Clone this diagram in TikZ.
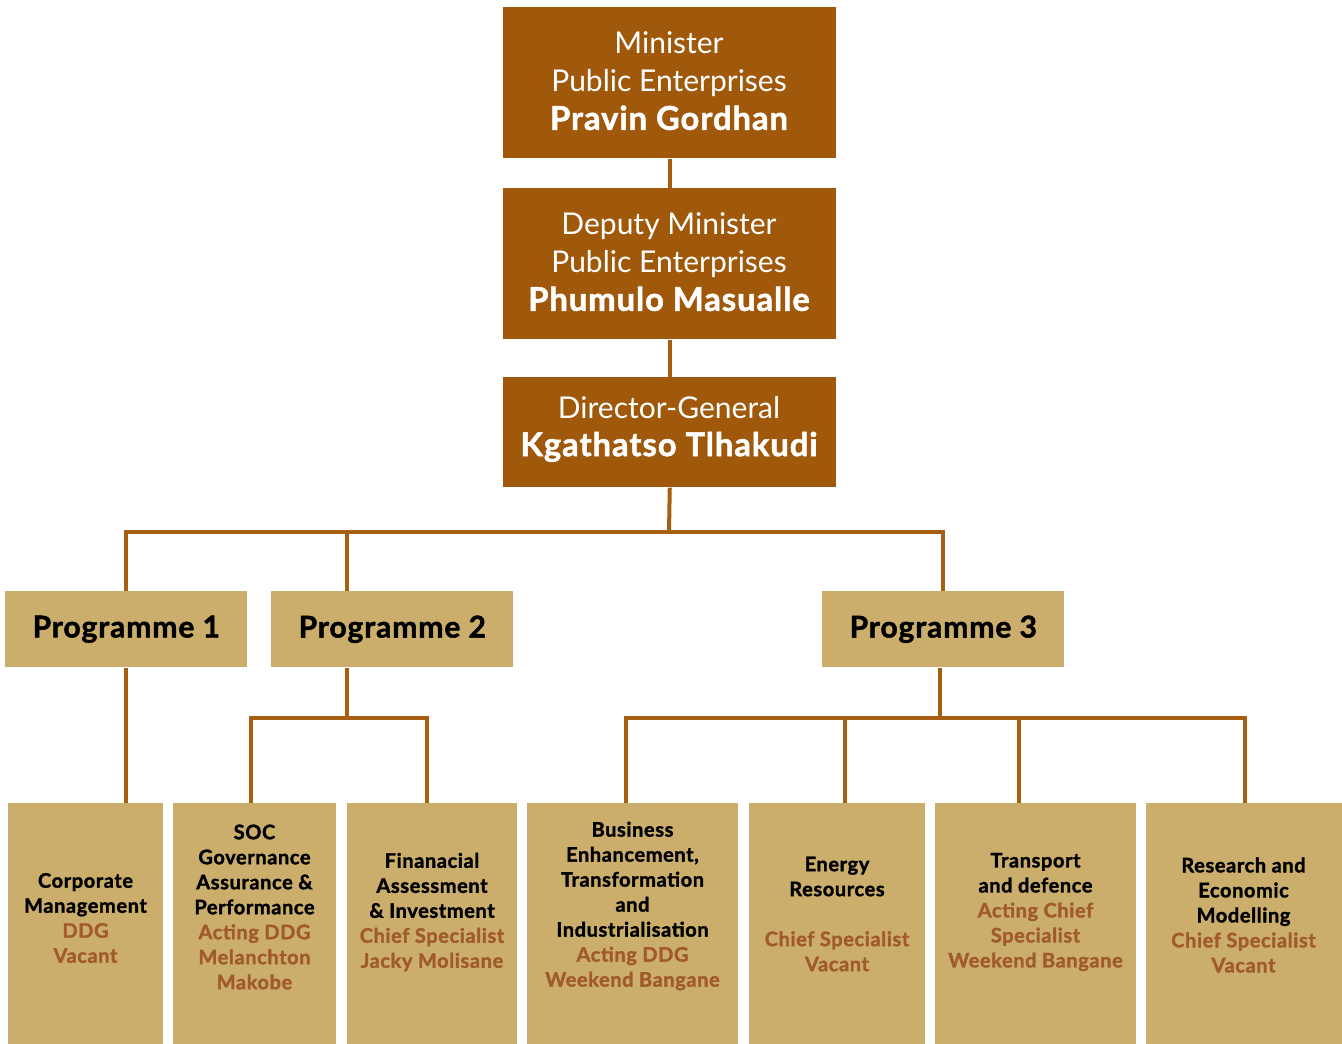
\documentclass[tikz,border=0pt]{standalone}
\usepackage{fontspec}
\setmainfont{Lato}[BoldFeatures={FakeBold=1.6,LetterSpace=3}]
\definecolor{dbrown}{HTML}{A0590B}
\definecolor{tan}{HTML}{CBAE6C}
\definecolor{nbrown}{HTML}{A05A2C}
\definecolor{lbrown}{HTML}{A65E10}
\newcommand{\bigname}[1]{{\bfseries\fontsize{24.5}{28.5}\selectfont #1}}
\begin{document}
\begin{tikzpicture}[x=0.75pt,y=-0.75pt,
  topbox/.style={fill=dbrown,draw=none,anchor=north west,inner sep=0pt},
  progbox/.style={fill=tan,draw=none,anchor=north west,inner sep=0pt},
  lowbox/.style={fill=tan,draw=none,anchor=north west,inner sep=0pt},
  toptxt/.style={text=white,align=center,font=\fontsize{22.5}{28.5}\selectfont},
  progtxt/.style={text=black,font=\bfseries\fontsize{22.5}{24}\selectfont},
  lowtxt/.style={text=black,align=center,font=\bfseries\fontsize{15}{18.75}\selectfont},
  conn/.style={draw=lbrown,line width=3pt}]
\useasboundingbox (0,0) rectangle (1342,1044);
% top boxes
\node[topbox,minimum width=333*0.75pt,minimum height=151*0.75pt] (min) at (503,7) {};
\node[topbox,minimum width=333*0.75pt,minimum height=151*0.75pt] (dep) at (503,188) {};
\node[topbox,minimum width=333*0.75pt,minimum height=110*0.75pt] (dg) at (503,377) {};
\node[toptxt] (mintxt) at (669,81) {Minister\\Public Enterprises\\\bigname{Pravin Gordhan}};
\node[toptxt] (deptxt) at (669,262) {Deputy Minister\\Public Enterprises\\\bigname{Phumulo Masualle}};
\node[toptxt] (dgtxt) at (669,429) {Director-General\\\bigname{Kgathatso Tlhakudi}};
% programme boxes
\node[progbox,minimum width=242*0.75pt,minimum height=76*0.75pt] (p1) at (5,591) {};
\node[progbox,minimum width=242*0.75pt,minimum height=76*0.75pt] (p2) at (271,591) {};
\node[progbox,minimum width=242*0.75pt,minimum height=76*0.75pt] (p3) at (822,591) {};
\node[progtxt] (p1t) at (p1.center) {Programme 1};
\node[progtxt] (p2t) at (p2.center) {Programme 2};
\node[progtxt] (p3t) at (p3.center) {Programme 3};
% lower boxes
\node[lowbox,minimum width=155*0.75pt,minimum height=241*0.75pt] (b1) at (8,803) {};
\node[lowbox,minimum width=163*0.75pt,minimum height=241*0.75pt] (b2) at (173,803) {};
\node[lowbox,minimum width=170*0.75pt,minimum height=241*0.75pt] (b3) at (347,803) {};
\node[lowbox,minimum width=211*0.75pt,minimum height=241*0.75pt] (b4) at (527,803) {};
\node[lowbox,minimum width=176*0.75pt,minimum height=241*0.75pt] (b5) at (749,803) {};
\node[lowbox,minimum width=201*0.75pt,minimum height=241*0.75pt] (b6) at (935,803) {};
\node[lowbox,minimum width=196*0.75pt,minimum height=241*0.75pt] (b7) at (1146,803) {};
\node[lowtxt] (t1) at (85.5,918) {Corporate\\Management\\\textcolor{nbrown}{DDG}\\\textcolor{nbrown}{Vacant}};
\node[lowtxt] (t2) at (254.5,907) {SOC\\Governance\\Assurance \&\\Performance\\\textcolor{nbrown}{Acting DDG}\\\textcolor{nbrown}{Melanchton}\\\textcolor{nbrown}{Makobe}};
\node[lowtxt] (t3) at (432,912) {Finanacial\\Assessment\\\& Investment\\\textcolor{nbrown}{Chief Specialist}\\\textcolor{nbrown}{Jacky Molisane}};
\node[lowtxt] (t4) at (632.5,906) {Business\\Enhancement,\\Transformation\\and\\Industrialisation\\\textcolor{nbrown}{Acting DDG}\\\textcolor{nbrown}{Weekend Bangane}};
\node[lowtxt] (t5) at (837,914) {Energy\\Resources\\[18.75pt]\textcolor{nbrown}{Chief Specialist}\\\textcolor{nbrown}{Vacant}};
\node[lowtxt] (t6) at (1035.5,912) {Transport\\and defence\\\textcolor{nbrown}{Acting Chief}\\\textcolor{nbrown}{Specialist}\\\textcolor{nbrown}{Weekend Bangane}};
\node[lowtxt] (t7) at (1243.5,915) {Research and\\Economic\\Modelling\\\textcolor{nbrown}{Chief Specialist}\\\textcolor{nbrown}{Vacant}};
% junction coordinates
\coordinate (busA) at (669,532);
\coordinate (busAp2) at (347,532);
\coordinate (j2) at (347,718);
\coordinate (j2l) at (251,718);
\coordinate (j2r) at (427,718);
\coordinate (j3) at (940,718);
\coordinate (d2) at (251,803);
\coordinate (d3) at (427,803);
\coordinate (d4) at (626,803);
\coordinate (d5) at (845,803);
\coordinate (d6) at (1019,803);
\coordinate (d7) at (1245,803);
\coordinate (j3a) at (626,718);
\coordinate (j3b) at (845,718);
\coordinate (j3c) at (1019,718);
\coordinate (j3d) at (1245,718);
% connectors
\draw[conn] (min.south) -- (dep.north);
\draw[conn] (dep.south) -- (dg.north);
\draw[conn] (dg.south) -- (busA);
\draw[conn] (p1.north) |- (busA) -| (p3.north);
\draw[conn] (busAp2) -- (p2.north -| busAp2);
\draw[conn] (p1.south) -- (p1.south |- b1.north);
\draw[conn] (p2.south -| j2) -- (j2);
\draw[conn] (d2) |- (j2l) -- (j2r) -- (d3);
\draw[conn] (p3.south -| j3) -- (j3);
\draw[conn] (d4) -- (j3a) -- (j3d) -- (d7);
\draw[conn] (j3b) -- (d5);
\draw[conn] (j3c) -- (d6);
\end{tikzpicture}
\end{document}
